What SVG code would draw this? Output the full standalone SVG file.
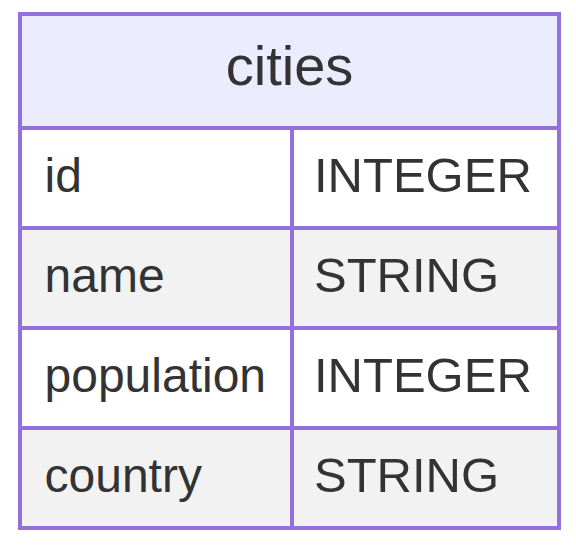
<svg xmlns="http://www.w3.org/2000/svg" width="576" height="546" viewBox="0 0 576 546">
<style>
.t{font-family:"Liberation Sans",Arial,sans-serif;fill:#333;font-size:48px}
.ty{font-size:49px}
.h{font-size:56px;text-anchor:middle}
.ln{stroke:#9370DB;stroke-width:4;fill:none}
</style>
<rect width="576" height="546" fill="#fff"/>
<g id="cities">
<rect x="20" y="14" width="539" height="114" fill="#ECECFF"/>
<rect x="20" y="128" width="539" height="100" fill="#fff"/>
<rect x="20" y="228" width="539" height="100" fill="#F2F2F2"/>
<rect x="20" y="328" width="539" height="100" fill="#fff"/>
<rect x="20" y="428" width="539" height="100" fill="#F2F2F2"/>
<text class="t h" x="289.5" y="85">cities</text>
<text class="t" x="44.5" y="192">id</text>
<text class="t ty" x="314" y="192">INTEGER</text>
<text class="t" x="44.5" y="292">name</text>
<text class="t ty" x="314" y="292">STRING</text>
<text class="t" x="44.5" y="392">population</text>
<text class="t ty" x="314" y="392">INTEGER</text>
<text class="t" x="44.5" y="492">country</text>
<text class="t ty" x="314" y="492">STRING</text>
<path class="ln" d="M20 128H559M20 228H559M20 328H559M20 428H559M292 128V528"/>
<rect class="ln" x="20" y="14" width="539" height="514"/>
</g>
<g id="connectors"></g>
</svg>
